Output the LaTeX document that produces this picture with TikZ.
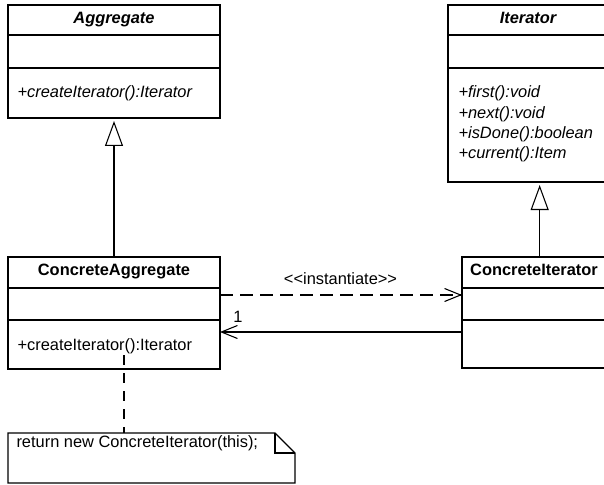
\documentclass[tikz,border=0pt]{standalone}
\usepackage{fontspec}
\setmainfont{Liberation Sans}
\usetikzlibrary{arrows.meta,fit}
\begin{document}
\begin{tikzpicture}[x=0.75pt,y=-0.75pt,
  font=\fontsize{12.3}{14}\selectfont,
  line width=0.8pt,
  box/.style={draw, line width=0.8pt, inner sep=0pt, outer sep=0pt},
  plainbox/.style={inner sep=0pt, outer sep=0pt},
  classtitle/.style={anchor=base, inner sep=0pt, font=\fontsize{12.3}{14}\selectfont\bfseries},
  abstracttitle/.style={classtitle, font=\fontsize{12.3}{14}\selectfont\bfseries\itshape},
  member/.style={anchor=base west, inner sep=0pt},
  abstractmember/.style={member, font=\fontsize{12.3}{14}\selectfont\itshape},
  gen/.style={-{Triangle[open, length=18.75pt, width=13.5pt]}, shorten >=2.25pt},
  dep/.style={dash pattern=on 9.75pt off 5.25pt, -{Straight Barb[length=12pt, width=9.75pt]}},
  assoc/.style={-{Straight Barb[length=12pt, width=9.75pt]}},
  notelink/.style={dash pattern=on 7.5pt off 6pt}
]
\useasboundingbox (0,0) rectangle (604,485);
\clip (0,0) rectangle (604,485);

% ---- Aggregate (abstract) ----
\coordinate (agg1) at (8,5);
\coordinate (agg2) at (220,118);
\node[box, fit=(agg1)(agg2)] (aggregate) {};
\draw (8,35) -- (220,35);
\draw (8,68) -- (220,68);
\node[abstracttitle] (aggtitle) at (114,23.5) {Aggregate};
\node[abstractmember] (aggop) at (17,97.5) {+createIterator():Iterator};

% ---- Iterator (abstract) ----
\coordinate (it1) at (448,5);
\coordinate (it2) at (608,182);
\node[box, fit=(it1)(it2)] (iterator) {};
\draw (448,35) -- (608,35);
\draw (448,68) -- (608,68);
\node[abstracttitle] (ittitle) at (528,23.5) {Iterator};
\node[abstractmember] (itop1) at (458,97.5) {+first():void};
\node[abstractmember] (itop2) at (458,118) {+next():void};
\node[abstractmember] (itop3) at (458,138.5) {+isDone():boolean};
\node[abstractmember] (itop4) at (458,159) {+current():Item};

% ---- ConcreteAggregate ----
\coordinate (ca1) at (8,257);
\coordinate (ca2) at (220,369);
\node[box, fit=(ca1)(ca2)] (concagg) {};
\draw (8,288) -- (220,288);
\draw (8,320) -- (220,320);
\node[classtitle] (catitle) at (114,275) {ConcreteAggregate};
\node[member] (caop) at (17,350) {+createIterator():Iterator};

% ---- ConcreteIterator ----
\coordinate (ci1) at (462,257);
\coordinate (ci2) at (612,368);
\node[box, fit=(ci1)(ci2)] (conciter) {};
\draw (462,288) -- (612,288);
\draw (462,320) -- (612,320);
\node[classtitle] (cititle) at (534,275) {ConcreteIterator};

% ---- note ----
\coordinate (n1) at (8,433);
\coordinate (n2) at (295,483);
\node[plainbox, fit=(n1)(n2)] (note) {};
\draw (note.north west) -- ([xshift=-15pt]note.north east)
      -- ([yshift=-15pt]note.north east) -- (note.south east)
      -- (note.south west) -- cycle;
\draw ([xshift=-15pt]note.north east) -- ([xshift=-15pt,yshift=-15pt]note.north east)
      -- ([yshift=-15pt]note.north east);
\node[member] (notetext) at (16,447.5) {return new ConcreteIterator(this);};

% ---- connectors ----
\draw[gen] (concagg.north) -- (aggregate.south);
\draw[gen] ([xshift=2pt]conciter.north) -- ([xshift=2pt]conciter.north |- iterator.south);
\draw[dep] ([yshift=13.5pt]concagg.east) -- ([yshift=13.5pt]concagg.east -| conciter.west);
\draw[assoc] ([yshift=-14.25pt]concagg.east -| conciter.west) -- ([yshift=-14.25pt]concagg.east);
\draw[notelink] ([xshift=7.5pt,yshift=10.5pt]concagg.south) -- ([xshift=7.5pt]concagg.south |- note.north);

% ---- labels ----
\node[anchor=base, inner sep=0pt] (instlabel) at (340.5,284) {{<}{<}instantiate{>}{>}};
\node[anchor=base, inner sep=0pt] (multlabel) at (238,322) {1};
\end{tikzpicture}
\end{document}
